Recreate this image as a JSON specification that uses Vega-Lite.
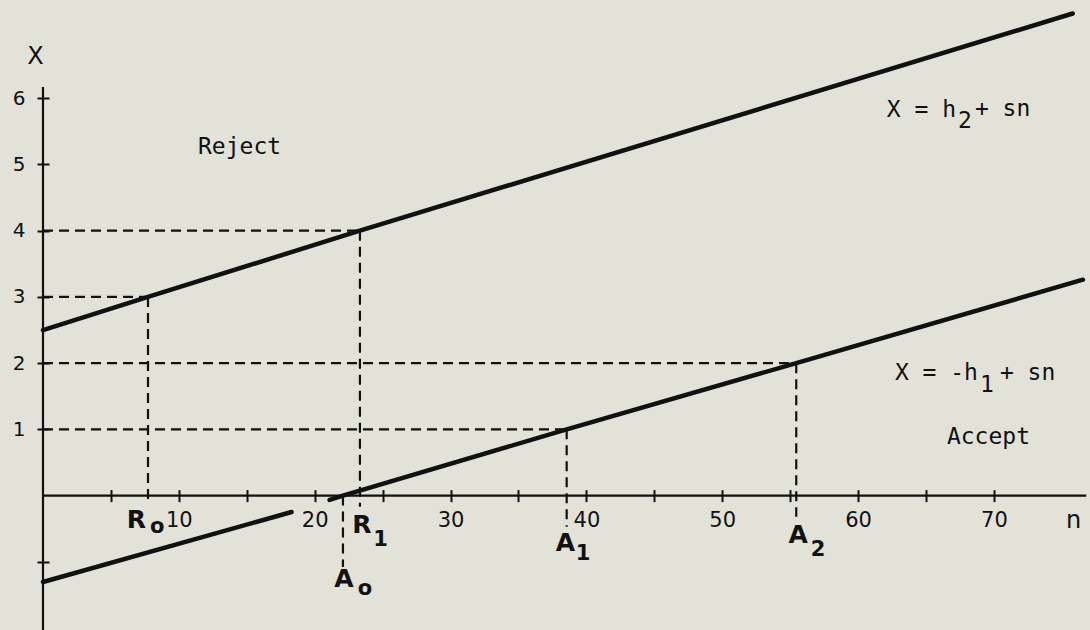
{
  "$schema": "https://vega.github.io/schema/vega-lite/v6.json",
  "width": 1046,
  "height": 543,
  "autosize": {"type": "none"},
  "padding": {"left": 43, "top": 87, "right": 1, "bottom": 0},
  "background": "#e3e2d9",
  "config": {"view": {"stroke": null}},
  "datasets": {
    "axes": [
      {"n": 0, "X": -2.03, "n2": 0, "X2": 6.17},
      {"n": 0, "X": 0, "n2": 76.8, "X2": 0}
    ],
    "guides": [
      {"n": 0, "X": 3, "n2": 7.73, "X2": 3},
      {"n": 7.73, "X": 3, "n2": 7.73, "X2": -0.05},
      {"n": 0, "X": 4, "n2": 23.33, "X2": 4},
      {"n": 23.33, "X": 4, "n2": 23.33, "X2": -0.17},
      {"n": 0, "X": 2, "n2": 55.45, "X2": 2},
      {"n": 55.45, "X": 2, "n2": 55.45, "X2": -0.32},
      {"n": 0, "X": 1, "n2": 38.55, "X2": 1},
      {"n": 38.55, "X": 1, "n2": 38.55, "X2": -0.47},
      {"n": 22.08, "X": 0, "n2": 22.08, "X2": -1.08}
    ],
    "bounds": [
      {"seg": "upper", "n": 0, "X": 2.5},
      {"seg": "upper", "n": 7.73, "X": 3.0},
      {"seg": "upper", "n": 23.33, "X": 4.0},
      {"seg": "upper", "n": 75.8, "X": 7.28},
      {"seg": "lower1", "n": 0, "X": -1.305},
      {"seg": "lower1", "n": 18.3, "X": -0.248},
      {"seg": "lower2", "n": 21.1, "X": -0.066},
      {"seg": "lower2", "n": 22.08, "X": 0},
      {"seg": "lower2", "n": 38.55, "X": 1.0},
      {"seg": "lower2", "n": 55.45, "X": 2.0},
      {"seg": "lower2", "n": 76.55, "X": 3.26}
    ],
    "notes": [
      {"text": "Reject", "n": 11.41, "X": 5.16},
      {"text": "Accept", "n": 66.54, "X": 0.78},
      {"text": "X = h", "n": 62.12, "X": 5.72},
      {"text": "2", "n": 67.35, "X": 5.55},
      {"text": "+ sn", "n": 68.6, "X": 5.73},
      {"text": "X = -h", "n": 62.71, "X": 1.746},
      {"text": "1", "n": 68.97, "X": 1.564},
      {"text": "+ sn", "n": 70.44, "X": 1.746}
    ],
    "letters": [
      {"text": "R", "n": 6.88, "X": -0.37},
      {"text": "R", "n": 23.48, "X": -0.44},
      {"text": "A", "n": 22.16, "X": -1.26},
      {"text": "A", "n": 38.45, "X": -0.71},
      {"text": "A", "n": 55.6, "X": -0.6}
    ],
    "subs": [
      {"text": "o", "n": 8.4, "X": -0.48},
      {"text": "1", "n": 24.85, "X": -0.67},
      {"text": "o", "n": 23.7, "X": -1.41},
      {"text": "1", "n": 39.75, "X": -0.88},
      {"text": "2", "n": 57.05, "X": -0.82}
    ]
  },
  "encoding": {
    "x": {
      "field": "n",
      "type": "quantitative",
      "scale": {"domain": [0, 77], "nice": false, "zero": false},
      "axis": {
        "title": "n",
        "values": [5, 10, 15, 20, 25, 30, 35, 40, 45, 50, 55, 60, 65, 70],
        "labelExpr": "datum.value % 10 === 0 ? datum.label : ''",
        "domain": false,
        "grid": false,
        "tickSize": 12,
        "tickWidth": 2,
        "tickColor": "#111111",
        "offset": -140.4,
        "labelPadding": 8,
        "labelFont": "DejaVu Sans",
        "labelFontSize": 21,
        "labelColor": "#111111",
        "labelOverlap": false,
        "labelFlush": false,
        "titleFont": "DejaVu Sans",
        "titleFontSize": 24,
        "titleFontWeight": "normal",
        "titleColor": "#111111",
        "titleX": 1030,
        "titleY": 38,
        "titleAlign": "center",
        "titleBaseline": "alphabetic"
      }
    },
    "y": {
      "field": "X",
      "type": "quantitative",
      "scale": {"domain": [-2.03, 6.17], "nice": false, "zero": false},
      "axis": {
        "title": "X",
        "values": [-1, 1, 2, 3, 4, 5, 6],
        "labelExpr": "datum.value > 0 ? datum.label : ''",
        "domain": false,
        "grid": false,
        "tickSize": 12,
        "tickWidth": 2,
        "tickColor": "#111111",
        "offset": -6,
        "labelPadding": 12,
        "labelFont": "DejaVu Sans",
        "labelFontSize": 20,
        "labelColor": "#111111",
        "labelOverlap": false,
        "labelFlush": false,
        "titleFont": "DejaVu Sans",
        "titleFontSize": 24,
        "titleFontWeight": "normal",
        "titleColor": "#111111",
        "titleAngle": 0,
        "titleX": -14,
        "titleY": -31,
        "titleAlign": "center",
        "titleBaseline": "middle"
      }
    }
  },
  "layer": [
    {
      "data": {"name": "axes"},
      "mark": {"type": "rule", "color": "#111111", "strokeWidth": 2.2},
      "encoding": {"x2": {"field": "n2"}, "y2": {"field": "X2"}}
    },
    {
      "data": {"name": "guides"},
      "mark": {"type": "rule", "color": "#111111", "strokeWidth": 2.2, "strokeDash": [10, 6]},
      "encoding": {"x2": {"field": "n2"}, "y2": {"field": "X2"}}
    },
    {
      "data": {"name": "bounds"},
      "mark": {"type": "line", "color": "#111111", "strokeWidth": 4.5, "strokeCap": "round"},
      "encoding": {"detail": {"field": "seg", "type": "nominal"}, "order": {"field": "n", "type": "quantitative"}}
    },
    {
      "data": {"name": "notes"},
      "mark": {"type": "text", "align": "left", "baseline": "alphabetic", "font": "DejaVu Sans Mono", "fontSize": 23, "color": "#111111"},
      "encoding": {"text": {"field": "text"}}
    },
    {
      "data": {"name": "letters"},
      "mark": {"type": "text", "align": "center", "baseline": "middle", "font": "DejaVu Sans", "fontWeight": "bold", "fontSize": 25, "color": "#111111"},
      "encoding": {"text": {"field": "text"}}
    },
    {
      "data": {"name": "subs"},
      "mark": {"type": "text", "align": "center", "baseline": "middle", "font": "DejaVu Sans", "fontWeight": "bold", "fontSize": 21, "color": "#111111"},
      "encoding": {"text": {"field": "text"}}
    }
  ]
}
